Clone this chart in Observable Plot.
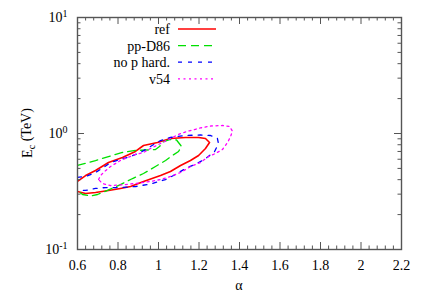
<!DOCTYPE html>
<html><head><meta charset="utf-8">
<script src="https://cdn.jsdelivr.net/npm/d3@7"></script>
<script src="https://cdn.jsdelivr.net/npm/@observablehq/plot@0.6"></script>
<style>
body{margin:0;background:#fff}
</style>
</head><body><div id="chart"></div>
<script>
// ---- data ----
const seriesNames = ["ref", "pp-D86", "no p hard.", "v54"];

const refX = [0.600,0.640,0.689,0.753,0.822,0.886,0.926,0.995,1.059,1.133,1.198,1.232,1.252,1.232,1.198,1.158,1.109,1.059,1.010,0.926,0.862,0.812,0.753,0.689,0.640,0.600];
const refY = [0.386,0.434,0.480,0.562,0.621,0.700,0.788,0.836,0.906,0.924,0.924,0.906,0.836,0.742,0.646,0.585,0.530,0.470,0.434,0.386,0.349,0.336,0.323,0.310,0.304,0.316];

const ppX = [0.600,0.689,0.753,0.822,0.886,0.946,0.985,1.005,1.025,1.059,1.089,1.114,1.099,1.069,1.035,0.985,0.926,0.872,0.812,0.748,0.699,0.664,0.625,0.600];
const ppY = [0.530,0.585,0.633,0.686,0.714,0.721,0.728,0.773,0.853,0.888,0.879,0.773,0.700,0.646,0.585,0.519,0.452,0.409,0.363,0.323,0.298,0.289,0.298,0.323];

const nopX = [0.600,0.640,0.689,0.728,0.763,0.812,0.862,0.911,0.960,1.010,1.059,1.133,1.207,1.257,1.291,1.296,1.277,1.227,1.178,1.133,1.084,1.035,0.960,0.886,0.812,0.738,0.689,0.640,0.600];
const nopY = [0.418,0.426,0.461,0.509,0.562,0.597,0.633,0.686,0.773,0.870,0.924,0.961,0.971,0.961,0.906,0.820,0.700,0.597,0.540,0.499,0.443,0.401,0.367,0.349,0.342,0.342,0.336,0.323,0.323];

const v54X = [0.704,0.714,0.733,0.763,0.812,0.847,0.886,0.926,0.960,1.010,1.059,1.109,1.158,1.207,1.257,1.316,1.351,1.365,1.356,1.341,1.316,1.281,1.247,1.207,1.158,1.109,1.059,1.010,0.960,0.911,0.837,0.763,0.723,0.704];
const v54Y = [0.401,0.434,0.470,0.519,0.585,0.621,0.660,0.686,0.742,0.820,0.906,1.000,1.061,1.116,1.160,1.172,1.149,1.050,0.942,0.836,0.728,0.672,0.633,0.562,0.519,0.461,0.426,0.401,0.386,0.375,0.363,0.356,0.371,0.401];

const xTicks = [0.6, 0.8, 1.0, 1.2, 1.4, 1.6, 1.8, 2.0, 2.2];
const xMinorTicks = [0.64,0.68,0.72,0.76,0.84,0.88,0.92,0.96,1.04,1.08,1.12,1.16,1.24,1.28,1.32,1.36,1.44,1.48,1.52,1.56,1.64,1.68,1.72,1.76,1.84,1.88,1.92,1.96,2.04,2.08,2.12,2.16];
const yTicks = [0.1, 1, 10];
const yMinorTicks = [0.2,0.3,0.4,0.5,0.6,0.7,0.8,0.9,2,3,4,5,6,7,8,9];

// ---- styles ----
const FONT = "'Liberation Serif', 'Times New Roman', 'DejaVu Serif', serif";
const FS = 14;
const styles = [
  {stroke: "#ff0000", strokeWidth: 1.6, dash: null},
  {stroke: "#00e000", strokeWidth: 1.3, dash: "8,5"},
  {stroke: "#0000ff", strokeWidth: 1.3, dash: "4,6"},
  {stroke: "#ff00ff", strokeWidth: 1.3, dash: "2,3.5"}
];

const series = [[refX, refY], [ppX, ppY], [nopX, nopY], [v54X, v54Y]].map(([xs, ys], i) =>
  xs.map((x, j) => ({series: seriesNames[i], x, y: ys[j]})));

const W = 421, H = 295;
const mL = 77, mR = 20, mT = 17, mB = 46;
const iW = W - mL - mR, iH = H - mT - mB;
const majorLen = 7, minorLen = 3.5;
const axisColor = "#555";

const marks = [];
series.forEach((data, i) => {
  const s = styles[i];
  marks.push(Plot.line(data, {x: "x", y: "y", stroke: s.stroke, strokeWidth: s.strokeWidth,
    strokeDasharray: s.dash, clip: true, curve: "linear"}));
});
// ticks (inward, all four sides)
const tickStyle = {stroke: axisColor, strokeWidth: 1};
marks.push(
  Plot.ruleX(xTicks, {x: d => d, insetTop: iH - majorLen, ...tickStyle}),
  Plot.ruleX(xTicks, {x: d => d, insetBottom: iH - majorLen, ...tickStyle}),
  Plot.ruleX(xMinorTicks, {x: d => d, insetTop: iH - minorLen, ...tickStyle}),
  Plot.ruleX(xMinorTicks, {x: d => d, insetBottom: iH - minorLen, ...tickStyle}),
  Plot.ruleY(yTicks, {y: d => d, insetRight: iW - majorLen, ...tickStyle}),
  Plot.ruleY(yTicks, {y: d => d, insetLeft: iW - majorLen, ...tickStyle}),
  Plot.ruleY(yMinorTicks, {y: d => d, insetRight: iW - minorLen, ...tickStyle}),
  Plot.ruleY(yMinorTicks, {y: d => d, insetLeft: iW - minorLen, ...tickStyle}),
  Plot.frame({stroke: axisColor, strokeWidth: 1.4}),
  Plot.axisX({ticks: xTicks, tickSize: 0, tickPadding: 11, tickFormat: d => String(+d.toFixed(1)), fontSize: FS, fill: "#000", label: null}),
  Plot.axisY({ticks: yTicks, tickSize: 0, tickPadding: 10, tickFormat: d => String(Math.round(Math.log10(d))), fontSize: FS, fill: "#000", label: null})
);

const svg = Plot.plot({
  width: W, height: H,
  marginLeft: mL, marginRight: mR, marginTop: mT, marginBottom: mB,
  style: {background: "#fff", overflow: "visible"},
  x: {type: "linear", domain: [0.6, 2.2]},
  y: {type: "log", domain: [0.1, 10]},
  marks
});
document.getElementById("chart").appendChild(svg);

const root = d3.select(svg);
root.attr("font-family", FONT);
// superscript exponents on y tick labels
root.selectAll('g[aria-label="y-axis tick label"] text').each(function() {
  const t = d3.select(this);
  const e = t.text();
  t.text("10");
  t.append("tspan").attr("dy", "-0.45em").style("font-size", "10px").text(e);
});

// y label  E_c (TeV)
const yl = root.append("text")
  .attr("transform", `translate(32,${mT + iH / 2}) rotate(-90)`)
  .attr("text-anchor", "middle").style("font-size", FS + "px").attr("fill", "#000");
yl.append("tspan").text("E");
yl.append("tspan").attr("dy", "0.3em").style("font-size", "10px").text("c");
yl.append("tspan").attr("dy", "-0.3em").text(" (TeV)");

// x label alpha
root.append("text").attr("x", mL + iW / 2).attr("y", 290).attr("text-anchor", "middle")
  .style("font-size", FS + "px").attr("fill", "#000").text("α");

// legend
const lg = root.append("g");
seriesNames.forEach((name, i) => {
  const y = 29 + i * 16.6;
  lg.append("text").attr("x", 170).attr("y", y).attr("dy", "0.35em").attr("text-anchor", "end")
    .style("font-size", FS + "px").attr("fill", "#000").text(name);
  lg.append("line").attr("x1", 178).attr("x2", 216).attr("y1", y).attr("y2", y)
    .attr("stroke", styles[i].stroke).attr("stroke-width", styles[i].strokeWidth)
    .attr("stroke-dasharray", styles[i].dash);
});

// force serif font on every text element
root.selectAll("text, tspan").style("font-family", FONT);
root.selectAll("g").attr("font-family", null);
</script></body></html>
